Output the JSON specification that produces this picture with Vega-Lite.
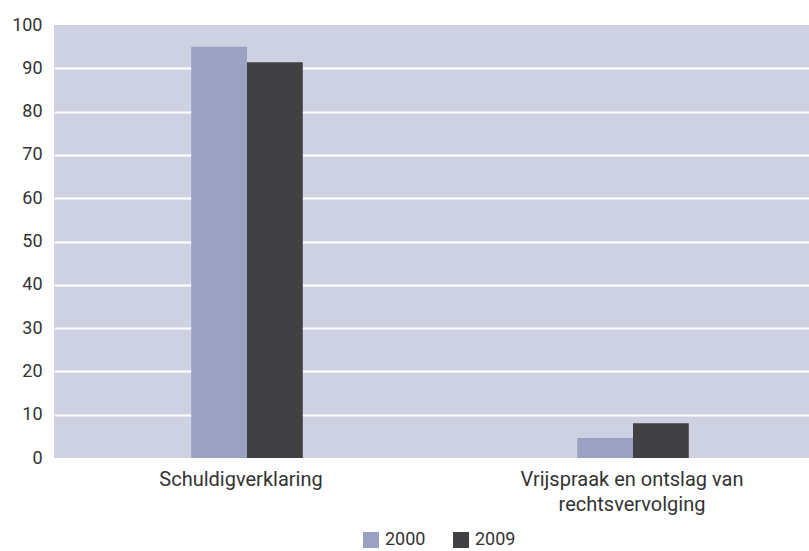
{
  "$schema": "https://vega.github.io/schema/vega-lite/v6.json",
  "width": 755,
  "height": 433,
  "autosize": {"type": "none"},
  "padding": {"left": 54, "top": 25, "right": 0, "bottom": 93},
  "background": "white",
  "config": {
    "view": {"fill": "#CED1E2", "stroke": null},
    "font": "Roboto",
    "axis": {"labelFont": "Roboto", "labelColor": "#333333", "labelFontSize": 18}
  },
  "data": {
    "values": [
      {"categorie": "Schuldigverklaring", "jaar": "2000", "waarde": 95.0},
      {"categorie": "Schuldigverklaring", "jaar": "2009", "waarde": 91.4},
      {"categorie": "Vrijspraak en ontslag van rechtsvervolging", "jaar": "2000", "waarde": 4.6},
      {"categorie": "Vrijspraak en ontslag van rechtsvervolging", "jaar": "2009", "waarde": 8.0}
    ]
  },
  "mark": {"type": "bar"},
  "encoding": {
    "x": {
      "field": "categorie",
      "type": "nominal",
      "sort": null,
      "scale": {"range": [0, 772], "paddingInner": 0.711, "paddingOuter": 0.3555},
      "axis": {
        "title": null,
        "domain": false,
        "ticks": false,
        "labelAngle": 0,
        "labelPadding": 11,
        "labelFontSize": 20,
        "labelLimit": 500,
        "labelLineHeight": 25,
        "labelOffset": {"expr": "datum.value == 'Schuldigverklaring' ? -6 : -1"},
        "labelExpr": "datum.label == 'Vrijspraak en ontslag van rechtsvervolging' ? ['Vrijspraak en ontslag van', 'rechtsvervolging'] : datum.label"
      }
    },
    "xOffset": {"field": "jaar", "type": "nominal", "scale": {"paddingInner": 0, "paddingOuter": 0}},
    "y": {
      "field": "waarde",
      "type": "quantitative",
      "scale": {"domain": [0, 100], "nice": false},
      "axis": {
        "title": null,
        "values": [0, 10, 20, 30, 40, 50, 60, 70, 80, 90, 100],
        "domain": false,
        "ticks": false,
        "labelPadding": 12,
        "grid": true,
        "gridColor": "white",
        "gridWidth": 2,
        "gridOpacity": {"expr": "datum.value == 0 || datum.value == 100 ? 0 : 1"}
      }
    },
    "color": {
      "field": "jaar",
      "type": "nominal",
      "scale": {"domain": ["2000", "2009"], "range": ["#9BA1C3", "#414143"]},
      "legend": {
        "title": null,
        "orient": "none",
        "direction": "horizontal",
        "legendX": 308,
        "legendY": 506,
        "padding": 0,
        "symbolType": "square",
        "symbolSize": 256,
        "symbolStrokeWidth": 0,
        "symbolOpacity": 1,
        "labelFontSize": 18,
        "labelColor": "#333333",
        "labelFont": "Roboto",
        "labelOffset": 5,
        "columnPadding": 26
      }
    }
  }
}
